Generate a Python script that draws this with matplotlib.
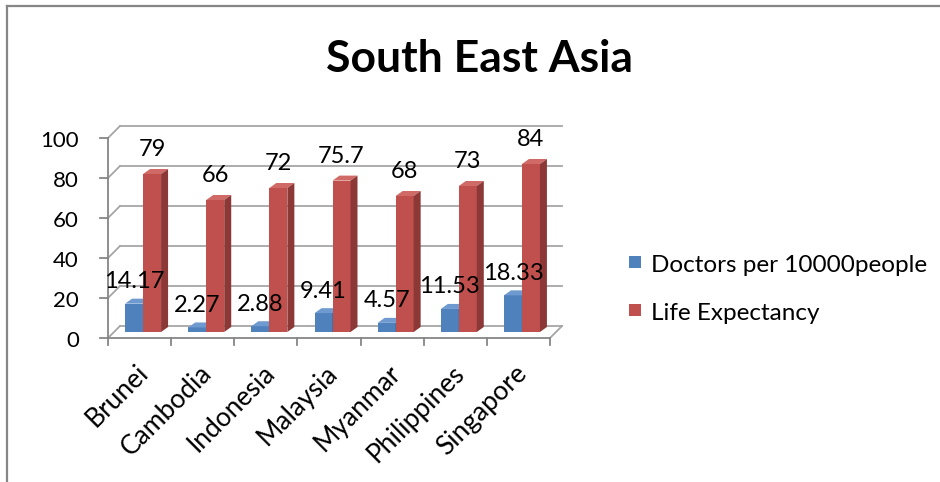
import matplotlib
matplotlib.use('Agg')
import matplotlib.pyplot as plt
from matplotlib.patches import Polygon, Rectangle
from matplotlib.lines import Line2D

countries = ['Brunei', 'Cambodia', 'Indonesia', 'Malaysia', 'Myanmar', 'Philippines', 'Singapore']
doctors = [14.17, 2.27, 2.88, 9.41, 4.57, 11.53, 18.33]
life = [79, 66, 72, 75.7, 68, 73, 84]
yticks = [0, 20, 40, 60, 80, 100]
series_names = ['Doctors per 10000people', 'Life Expectancy']

plt.rcParams['font.family'] = ['Lato', 'DejaVu Sans']

W, H = 940, 482
fig = plt.figure(figsize=(W / 100, H / 100), dpi=100)

# front plane of the 3d box, in pixels
x_left, x_right, y_zero, y_top = 108, 550, 338, 138
ax = fig.add_axes([x_left / W, 1 - y_zero / H, (x_right - x_left) / W, (y_zero - y_top) / H])
ax.set_xlim(-0.5, len(countries) - 0.5)
ax.set_ylim(0, 100)
ax.axis('off')

px = len(countries) / (x_right - x_left)   # category units per pixel
py = 100 / (y_zero - y_top)                # value units per pixel

axis_col = '#868686'
grid_col = '#a6a6a6'
back_dx, back_dy = 12 * px, 12 * py

# back wall gridlines + left wall diagonals
for v in yticks:
    ax.add_line(Line2D([-0.5 + back_dx, len(countries) - 0.5 + back_dx], [v + back_dy, v + back_dy],
                       color=grid_col, lw=1.3, clip_on=False, zorder=1))
    ax.add_line(Line2D([-0.5, -0.5 + back_dx], [v, v + back_dy], color=grid_col, lw=1.3, clip_on=False, zorder=1))
    ax.add_line(Line2D([-0.5 - 8 * px, -0.5], [v, v], color=axis_col, lw=1.3, clip_on=False, zorder=2))
    ax.text(-0.5 - 29 * px, v - 3 * py, str(v), ha='right', va='center', fontsize=16, clip_on=False)

# floor right edge, front axes
n = len(countries)
ax.add_line(Line2D([n - 0.5, n - 0.5 + back_dx], [0, back_dy], color=grid_col, lw=1.3, clip_on=False, zorder=1))
ax.add_line(Line2D([-0.5, -0.5], [0, 100], color=axis_col, lw=1.3, clip_on=False, zorder=2))
ax.add_line(Line2D([-0.5, n - 0.5], [0, 0], color=axis_col, lw=1.3, clip_on=False, zorder=2))
for k in range(n + 1):
    ax.add_line(Line2D([k - 0.5, k - 0.5], [0, -7 * py], color=axis_col, lw=1.3, clip_on=False, zorder=2))

# bars
base = 6 * py
gx = 3.5 * px
w = 18 * px
ddx, ddy = 7 * px, 5 * py
styles = [('#4f81bd', '#6f9ad0', '#385d8a'), ('#c0504d', '#d06a67', '#8c3836')]


def bar3d(x0, v, cols, z):
    front, top, side = cols
    x1 = x0 + w
    t = base + v
    ax.add_patch(Rectangle((x0, base), w, v, facecolor=front, edgecolor='none', zorder=z, clip_on=False))
    ax.add_patch(Polygon([(x0, t), (x1, t), (x1 + ddx, t + ddy), (x0 + ddx, t + ddy)],
                         closed=True, facecolor=top, edgecolor='none', zorder=z, clip_on=False))
    ax.add_patch(Polygon([(x1, base), (x1 + ddx, base + ddy), (x1 + ddx, t + ddy), (x1, t)],
                         closed=True, facecolor=side, edgecolor='none', zorder=z, clip_on=False))


for i in range(n):
    xb = i + gx - w
    xr = i + gx
    bar3d(xb, doctors[i], styles[0], 3)
    bar3d(xr, life[i], styles[1], 4)
    ax.text(xb + w / 2, base + doctors[i] + 11, f'{doctors[i]:g}', ha='center', va='center',
            fontsize=17, zorder=6, clip_on=False)
    ax.text(xr + w / 2, base + life[i] + 12, f'{life[i]:g}', ha='center', va='center',
            fontsize=17, zorder=6, clip_on=False)
    ax.text(i + 5 * px, -31 * py, countries[i], rotation=45, rotation_mode='anchor',
            ha='right', va='center', fontsize=19, clip_on=False)

# title
fig.text(480 / W, 1 - 72 / H, 'South East Asia', ha='center', va='baseline',
         fontsize=32, fontweight='bold')

# legend
for j, name in enumerate(series_names):
    cy = 262 + 48 * j
    fig.patches.append(Rectangle(((635 - 6) / W, 1 - (cy + 6) / H), 12 / W, 12 / H,
                                 facecolor=styles[j][0], edgecolor='none', transform=fig.transFigure))
    fig.text(651 / W, 1 - (cy + 10) / H, name, ha='left', va='baseline', fontsize=17.5)

# chart area border (top and left only visible)
fig.add_artist(Line2D([7 / W, 1], [1 - 6 / H, 1 - 6 / H], color=axis_col, lw=1.6, transform=fig.transFigure))
fig.add_artist(Line2D([7 / W, 7 / W], [0, 1 - 6 / H], color=axis_col, lw=1.6, transform=fig.transFigure))

fig.savefig('out.png', dpi=100)
